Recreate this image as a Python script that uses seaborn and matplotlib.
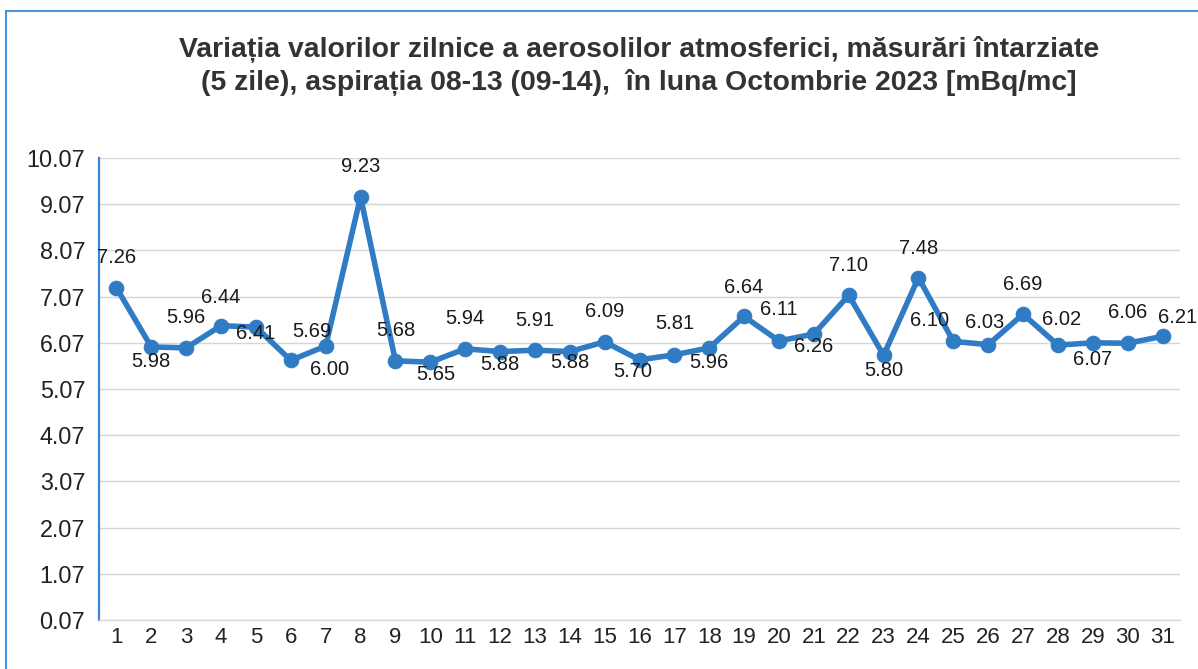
import seaborn as sns
import numpy as np
import pandas as pd
import matplotlib.pyplot as plt
from matplotlib.lines import Line2D
from matplotlib import font_manager

# data (data labels)
days = list(range(1, 32))
values = [7.26, 5.98, 5.96, 6.44, 6.41, 5.69, 6.00, 9.23, 5.68, 5.65,
          5.94, 5.88, 5.91, 5.88, 6.09, 5.70, 5.81, 5.96, 6.64, 6.11,
          6.26, 7.10, 5.80, 7.48, 6.10, 6.03, 6.69, 6.02, 6.07, 6.06, 6.21]
y_ticks = [0.07, 1.07, 2.07, 3.07, 4.07, 5.07, 6.07, 7.07, 8.07, 9.07, 10.07]

# label placement, pixel offsets from the marker
label_offsets = [(0, 30), (0, -15), (0, 30), (0, 28), (0, -6), (21, 29), (4, -23),
                 (0, 30), (0, 30), (6, -12), (0, 30), (0, -13), (0, 30), (0, -11),
                 (0, 30), (-7, -12), (0, 31), (0, -15), (0, 29), (0, 31), (0, -12),
                 (0, 30), (0, -15), (0, 29), (-24, 21), (-4, 22), (0, 30), (4, 26),
                 (0, -17), (0, 31), (15, 19)]

sns.set_style('white')
plt.rcParams['font.family'] = ['Liberation Sans', 'DejaVu Sans']

names = {f.name for f in font_manager.fontManager.ttflist}
narrow = 'Liberation Sans Narrow' if 'Liberation Sans Narrow' in names else 'Liberation Sans'

line_color = '#2f7bc4'
df = pd.DataFrame({'day': days, 'value': values})

fig = plt.figure(figsize=(11.98, 6.69), dpi=100)
ax = fig.add_axes([99 / 1198, 1 - 620 / 669, (1180 - 99) / 1198, (620 - 158) / 669])

sns.lineplot(data=df, x='day', y='value', ax=ax, color=line_color, linewidth=4,
             marker='o', markersize=10.5, markeredgecolor=line_color, zorder=3)

for d, v, (dx, dy) in zip(days, values, label_offsets):
    ax.annotate(f'{v:.2f}', (d, v), xytext=(dx, dy), textcoords='offset pixels',
                ha='center', va='center', fontsize=14.5, color='#1a1a1a', zorder=4)

ax.set_xlim(0.5, 31.5)
ax.set_ylim(0.07, 10.07)
ax.set_yticks(y_ticks)
ax.set_yticklabels([f'{t:.2f}' for t in y_ticks], fontsize=16.8, color='#222222')
ax.set_xticks(days)
ax.set_xticklabels([str(d) for d in days], fontsize=17.5 if narrow != 'Liberation Sans' else 16,
                   color='#222222', family=[narrow, 'DejaVu Sans'])
ax.set_xticks(np.arange(0.5, 32, 1), minor=True)
ax.set_xlabel('')
ax.set_ylabel('')

ax.grid(axis='y', color='#d6d6d6', linewidth=1)
for s in ['top', 'right']:
    ax.spines[s].set_visible(False)
ax.spines['left'].set_color('#3b86d0')
ax.spines['left'].set_linewidth(1.6)
ax.spines['bottom'].set_color('#d6d6d6')
ax.spines['bottom'].set_linewidth(1)
ax.tick_params(axis='y', which='major', direction='out', length=7, width=1.4, color='#3b86d0', pad=3)
ax.tick_params(axis='x', which='major', length=0, pad=5)
ax.tick_params(axis='x', which='minor', direction='out', length=4, width=0.8, color='#cccccc')

fig.text(639 / 1198, 1 - 66 / 669,
         'Variația valorilor zilnice a aerosolilor atmosferici, măsurări întarziate\n'
         '(5 zile), aspirația 08-13 (09-14),  în luna Octombrie 2023 [mBq/mc]',
         ha='center', va='center', fontsize=20.4, fontweight='bold', color='#333333',
         linespacing=1.3)

# scanned frame border
fig.add_artist(Line2D([6 / 1198, 1], [1 - 11 / 669, 1 - 11 / 669], color='#4a94dc', linewidth=1.5))
fig.add_artist(Line2D([6 / 1198, 6 / 1198], [0, 1 - 11 / 669], color='#4a94dc', linewidth=1.5))

fig.savefig('out.png', dpi=100)
